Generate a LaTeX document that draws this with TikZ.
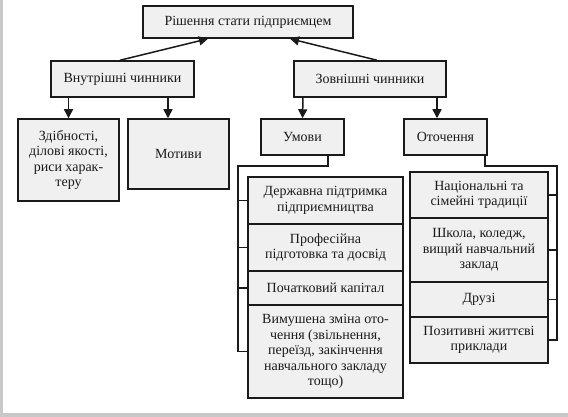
\documentclass[tikz,border=0pt]{standalone}
\usepackage{fontspec}
\setmainfont{Liberation Serif}
\usetikzlibrary{arrows.meta}
\definecolor{boxfill}{HTML}{F0F0F0}
\definecolor{stripgray}{HTML}{C8C8C8}
\definecolor{inkc}{HTML}{1A1A1A}
\begin{document}
\begin{tikzpicture}[x=1pt,y=-1pt,
  box/.style={draw=inkc, line width=1.5pt, fill=boxfill, align=center, inner sep=0pt,
    font=\fontsize{14}{15.5}\selectfont, text=inkc},
  conn/.style={draw=inkc, line width=1.5pt},
  arr/.style={conn, -{Triangle[length=9pt,width=9pt]}}]
\useasboundingbox (0,0) rectangle (568,417);
\fill[white] (0,0) rectangle (568,417);
\fill[stripgray] (0,0) rectangle (3,417);
\fill[stripgray] (0,413) rectangle (568,417);

\node[box, minimum width=210pt, minimum height=32pt] (top) at (248,22) {Рішення стати підприємцем};
\node[box, minimum width=143pt, minimum height=36pt] (vn) at (122.5,79) {Внутрішні чинники};
\node[box, minimum width=152pt, minimum height=36pt] (zv) at (370,79) {Зовнішні чинники};
\node[box, minimum width=101pt, minimum height=82pt] (zd) at (68.5,160) {Здібності,\\ділові якості,\\риси харак-\\теру};
\node[box, minimum width=101pt, minimum height=70pt] (mot) at (178.5,154) {Мотиви};
\node[box, minimum width=83pt, minimum height=36pt] (um) at (302.5,137) {Умови};
\node[box, minimum width=83pt, minimum height=36pt] (ot) at (445.5,137) {Оточення};

\node[box, minimum width=155pt, minimum height=47pt] (l1) at (325.5,200.5) {Державна підтримка\\підприємництва};
\node[box, minimum width=155pt, minimum height=47pt] (l2) at (325.5,247.5) {Професійна\\підготовка та досвід};
\node[box, minimum width=155pt, minimum height=34pt] (l3) at (325.5,288) {Початковий капітал};
\node[box, minimum width=155pt, minimum height=93pt] (l4) at (325.5,351.5) {Вимушена зміна ото-\\чення (звільнення,\\переїзд, закінчення\\навчального закладу\\тощо)};

\node[box, minimum width=138pt, minimum height=46pt] (r1) at (479,195) {Національні та\\сімейні традиції};
\node[box, minimum width=138pt, minimum height=64pt] (r2) at (479,250) {Школа, коледж,\\вищий навчальний\\заклад};
\node[box, minimum width=138pt, minimum height=35pt] (r3) at (479,299.5) {Друзі};
\node[box, minimum width=138pt, minimum height=46pt] (r4) at (479,340) {Позитивні життєві\\приклади};

% arrows to top
\draw[arr] ([xshift=-2.5pt]vn.north) -- ([xshift=-40pt]top.south);
\draw[arr] ([xshift=7pt]zv.north) -- ([xshift=42pt]top.south);
% arrows down
\draw[arr] ([xshift=-54pt]vn.south) -- (zd.north);
\draw[arr] ([xshift=45.5pt]vn.south) -- ([xshift=-10.5pt]mot.north);
\draw[arr] ([xshift=-67pt]zv.south) -- (um.north);
\draw[arr] ([xshift=67pt]zv.south) -- ([xshift=-8.5pt]ot.north);

% left bracket
\coordinate (lb) at (238,166);
\draw[conn] ([xshift=25.5pt]um.south) |- (lb) -- (lb |- l4.west) -- (l4.west);
\draw[conn] (lb |- l1.west) -- (l1.west);
\draw[conn] (lb |- l2.west) -- (l2.west);
\draw[conn] (lb |- l3.west) -- (l3.west);

% right bracket
\coordinate (rb) at (557,166);
\draw[conn] ([xshift=39.5pt]ot.south) |- (rb) -- (rb |- r4.east) -- (r4.east);
\draw[conn] (rb |- r1.east) -- (r1.east);
\draw[conn] (rb |- r2.east) -- (r2.east);
\draw[conn] (rb |- r3.east) -- (r3.east);
\end{tikzpicture}
\end{document}
